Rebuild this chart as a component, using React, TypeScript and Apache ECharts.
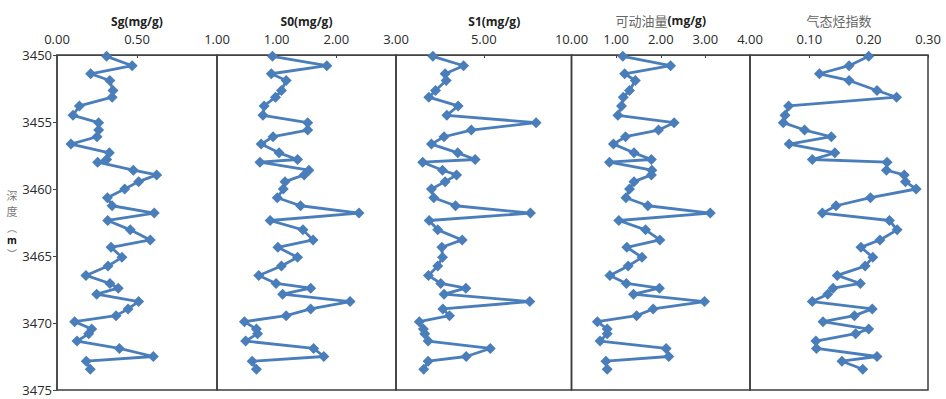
import React, { useEffect, useRef } from "react";
import * as echarts from "echarts";

const depths = [
  3450.1, 3450.8, 3451.4, 3451.9, 3452.65, 3453.15, 3453.8, 3454.5, 3455.05, 3455.6,
  3456.1, 3456.65, 3457.3, 3457.8, 3458.0, 3458.6, 3458.95, 3459.45, 3460.0, 3460.65,
  3461.25, 3461.8, 3462.35, 3463.05, 3463.8, 3464.35, 3465.1, 3465.75, 3466.45, 3467.05,
  3467.4, 3467.85, 3468.4, 3468.95, 3469.45, 3469.9, 3470.45, 3470.8, 3471.35, 3471.9,
  3472.5, 3472.85, 3473.45,
];

const sg = [
  0.31, 0.47, 0.21, 0.33, 0.35, 0.345, 0.14, 0.1, 0.26, 0.26,
  0.25, 0.087, 0.327, 0.31, 0.254, 0.477, 0.623, 0.51, 0.423, 0.315,
  0.344, 0.608, 0.317, 0.458, 0.583, 0.338, 0.406, 0.319, 0.181, 0.331,
  0.383, 0.248, 0.51, 0.444, 0.369, 0.11, 0.217, 0.198, 0.125, 0.39,
  0.602, 0.183, 0.208,
];

const s0 = [
  0.93, 1.84, 0.91, 1.16, 1.08, 0.98, 0.79, 0.77, 1.52, 1.52,
  0.94, 0.74, 1.04, 1.35, 0.72, 1.54, 1.46, 1.14, 1.11, 1.01,
  1.4, 2.38, 0.89, 1.44, 1.61, 1.02, 1.35, 1.08, 0.7, 0.99,
  1.57, 1.1, 2.23, 1.57, 1.16, 0.46, 0.66, 0.68, 0.48, 1.62,
  1.79, 0.59, 0.66,
];

const s1 = [
  2.1, 3.85, 2.8, 2.86, 2.25, 1.87, 3.54, 2.9, 7.98, 4.29,
  2.74, 2.02, 3.52, 4.51, 1.52, 2.65, 3.45, 2.8, 2.02, 2.15,
  3.39, 7.66, 1.89, 2.38, 3.77, 2.61, 2.65, 2.38, 1.85, 2.55,
  3.98, 2.74, 7.62, 2.67, 3.05, 1.33, 1.56, 1.64, 1.83, 5.37,
  4.0, 1.83, 1.58,
];

const movableOil = [
  1.15, 2.22, 1.19, 1.43, 1.3, 1.16, 1.12, 1.04, 2.3, 1.95,
  1.21, 0.94, 1.4, 1.79, 0.85, 1.8, 1.79, 1.4, 1.3, 1.22,
  1.71, 3.11, 1.06, 1.66, 1.98, 1.24, 1.58, 1.27, 0.86, 1.23,
  1.97, 1.39, 2.98, 1.83, 1.46, 0.58, 0.8, 0.8, 0.64, 2.12,
  2.18, 0.77, 0.8,
];

const gasIndex = [
  0.2, 0.167, 0.117, 0.167, 0.214, 0.247, 0.065, 0.059, 0.056, 0.092,
  0.137, 0.066, 0.143, 0.105, 0.231, 0.23, 0.26, 0.262, 0.28, 0.203,
  0.145, 0.122, 0.235, 0.248, 0.219, 0.187, 0.207, 0.194, 0.147, 0.186,
  0.14, 0.131, 0.105, 0.206, 0.176, 0.123, 0.2, 0.178, 0.111, 0.112,
  0.214, 0.155, 0.19,
];

const panelTitles = [
  "{b|Sg(mg/g)}",
  "{b|S0(mg/g)}",
  "{b|S1(mg/g)}",
  "{c|可动油量}{b|(mg/g)}",
  "{c|气态烃指数}",
];
const panelMax = [1, 3, 10, 4, 0.3];
const panelInterval = [0.5, 1, 5, 1, 0.1];
const panelSeries = [sg, s0, s1, movableOil, gasIndex];
const depthMin = 3450;
const depthMax = 3475;
const depthInterval = 5;
const depthNameChars = ["深", "度", "︵", "m", "︶"];

const gridLefts = [57, 217, 396, 571.5, 750];
const gridRights = [217, 396, 571.5, 750, 928];

const FONT = "'Open Sans', 'Noto Sans CJK SC', sans-serif";
const CJK = "'Noto Sans CJK SC', sans-serif";

export default function App() {
  const ref = useRef<HTMLDivElement>(null);
  useEffect(() => {
    if (!ref.current) return;
    const chart = echarts.init(ref.current, undefined, { renderer: "svg" });
    const grids = gridLefts.map((l, i) => ({
      left: l,
      top: 55,
      width: gridRights[i] - l,
      height: 335,
      show: true,
      borderColor: "#3c3c3c",
      borderWidth: 1.5,
      backgroundColor: "transparent",
    }));
    const xAxes = panelTitles.map((t, i) => ({
      type: "value",
      gridIndex: i,
      position: "top",
      min: 0,
      max: panelMax[i],
      interval: panelInterval[i],
      name: t,
      nameLocation: "middle",
      nameGap: 28,
      nameTextStyle: {
        rich: {
          b: { fontFamily: FONT, fontWeight: "bold", fontSize: 12, color: "#222" },
          c: { fontFamily: CJK, fontSize: 13, color: "#666" },
        },
        padding: i === 2 ? [0, 0, 0, 21] : 0,
      },
      axisLine: { show: true, lineStyle: { color: "#444", width: 1 } },
      axisTick: { show: true, inside: true, length: 3, lineStyle: { color: "#444" } },
      splitLine: { show: false },
      axisLabel: {
        show: true,
        margin: 10,
        fontFamily: FONT,
        fontSize: 13,
        color: "#2a2a2a",
        showMinLabel: i === 0,
        showMaxLabel: true,
        formatter: (v: number) => v.toFixed(2),
      },
    }));
    const yAxes = panelTitles.map((_, i) => ({
      type: "value",
      gridIndex: i,
      inverse: true,
      min: depthMin,
      max: depthMax,
      interval: depthInterval,
      axisLine: { show: i === 0, lineStyle: { color: "#444", width: 1.5 } },
      axisTick: { show: i === 0, length: 4, lineStyle: { color: "#444" } },
      axisLabel: {
        show: i === 0,
        margin: 5,
        fontFamily: FONT,
        fontSize: 13,
        color: "#2a2a2a",
        formatter: (v: number) => String(v),
      },
      splitLine: { show: false },
    }));
    const series = panelSeries.map((vals, i) => ({
      type: "line",
      xAxisIndex: i,
      yAxisIndex: i,
      data: vals.map((v, k) => [v, depths[k]]),
      symbol: "diamond",
      symbolSize: 11,
      lineStyle: { color: "#4a7ebb", width: 2.8 },
      itemStyle: { color: "#4a7ebb" },
    }));
    const charY = [195, 211, 227, 240, 253];
    const charSize = [11, 11, 10, 10, 10];
    const nameElements = depthNameChars.map((ch, k) => ({
      type: "text",
      x: 12,
      y: charY[k],
      style: {
        text: ch,
        fontFamily: ch === "m" ? FONT : CJK,
        fontSize: charSize[k],
        fontWeight: ch === "m" ? "bold" : "normal",
        fill: ch === "m" ? "#111" : "#777",
        align: "center",
        verticalAlign: "middle",
      },
    }));
    chart.setOption({
      animation: false,
      backgroundColor: "#fff",
      grid: grids,
      xAxis: xAxes,
      yAxis: yAxes,
      series,
      graphic: nameElements,
    });
    return () => chart.dispose();
  }, []);
  return (
    <div
      ref={ref}
      style={{ position: "absolute", left: 0, top: 0, width: 946, height: 399 }}
    />
  );
}
